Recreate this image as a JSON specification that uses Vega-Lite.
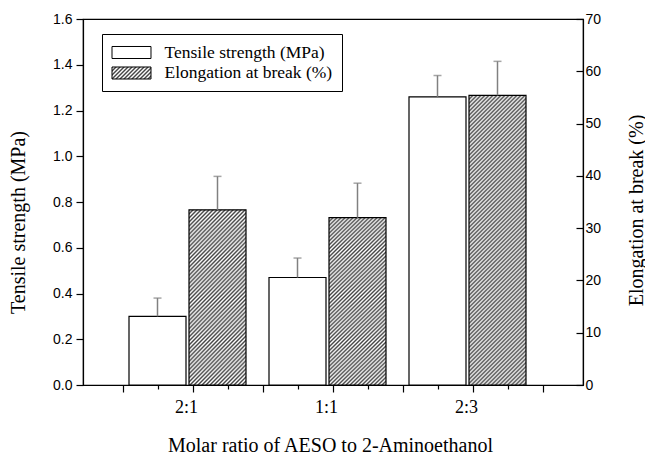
{
  "$schema": "https://vega.github.io/schema/vega-lite/v6.json",
  "width": 500,
  "height": 366,
  "autosize": "none",
  "padding": {"left": 83, "top": 19, "right": 62, "bottom": 76},
  "background": "white",
  "config": {
    "view": {"stroke": "black", "strokeWidth": 1.2},
    "axis": {"labelColor": "black", "titleColor": "black", "domainColor": "black", "tickColor": "black", "domainWidth": 1.2, "tickWidth": 1.2, "grid": false, "titleFontWeight": "normal"}
  },
  "params": [
    {"name": "hs", "value": [
      {"offset":0,"color":"#444"},{"offset":0.005,"color":"#fff"},{"offset":0.01,"color":"#444"},{"offset":0.015,"color":"#fff"},{"offset":0.02,"color":"#444"},{"offset":0.025,"color":"#fff"},{"offset":0.03,"color":"#444"},{"offset":0.035,"color":"#fff"},{"offset":0.04,"color":"#444"},{"offset":0.045,"color":"#fff"},
      {"offset":0.05,"color":"#444"},{"offset":0.055,"color":"#fff"},{"offset":0.06,"color":"#444"},{"offset":0.065,"color":"#fff"},{"offset":0.07,"color":"#444"},{"offset":0.075,"color":"#fff"},{"offset":0.08,"color":"#444"},{"offset":0.085,"color":"#fff"},{"offset":0.09,"color":"#444"},{"offset":0.095,"color":"#fff"},
      {"offset":0.1,"color":"#444"},{"offset":0.105,"color":"#fff"},{"offset":0.11,"color":"#444"},{"offset":0.115,"color":"#fff"},{"offset":0.12,"color":"#444"},{"offset":0.125,"color":"#fff"},{"offset":0.13,"color":"#444"},{"offset":0.135,"color":"#fff"},{"offset":0.14,"color":"#444"},{"offset":0.145,"color":"#fff"},
      {"offset":0.15,"color":"#444"},{"offset":0.155,"color":"#fff"},{"offset":0.16,"color":"#444"},{"offset":0.165,"color":"#fff"},{"offset":0.17,"color":"#444"},{"offset":0.175,"color":"#fff"},{"offset":0.18,"color":"#444"},{"offset":0.185,"color":"#fff"},{"offset":0.19,"color":"#444"},{"offset":0.195,"color":"#fff"},
      {"offset":0.2,"color":"#444"},{"offset":0.205,"color":"#fff"},{"offset":0.21,"color":"#444"},{"offset":0.215,"color":"#fff"},{"offset":0.22,"color":"#444"},{"offset":0.225,"color":"#fff"},{"offset":0.23,"color":"#444"},{"offset":0.235,"color":"#fff"},{"offset":0.24,"color":"#444"},{"offset":0.245,"color":"#fff"},
      {"offset":0.25,"color":"#444"},{"offset":0.255,"color":"#fff"},{"offset":0.26,"color":"#444"},{"offset":0.265,"color":"#fff"},{"offset":0.27,"color":"#444"},{"offset":0.275,"color":"#fff"},{"offset":0.28,"color":"#444"},{"offset":0.285,"color":"#fff"},{"offset":0.29,"color":"#444"},{"offset":0.295,"color":"#fff"},
      {"offset":0.3,"color":"#444"},{"offset":0.305,"color":"#fff"},{"offset":0.31,"color":"#444"},{"offset":0.315,"color":"#fff"},{"offset":0.32,"color":"#444"},{"offset":0.325,"color":"#fff"},{"offset":0.33,"color":"#444"},{"offset":0.335,"color":"#fff"},{"offset":0.34,"color":"#444"},{"offset":0.345,"color":"#fff"},
      {"offset":0.35,"color":"#444"},{"offset":0.355,"color":"#fff"},{"offset":0.36,"color":"#444"},{"offset":0.365,"color":"#fff"},{"offset":0.37,"color":"#444"},{"offset":0.375,"color":"#fff"},{"offset":0.38,"color":"#444"},{"offset":0.385,"color":"#fff"},{"offset":0.39,"color":"#444"},{"offset":0.395,"color":"#fff"},
      {"offset":0.4,"color":"#444"},{"offset":0.405,"color":"#fff"},{"offset":0.41,"color":"#444"},{"offset":0.415,"color":"#fff"},{"offset":0.42,"color":"#444"},{"offset":0.425,"color":"#fff"},{"offset":0.43,"color":"#444"},{"offset":0.435,"color":"#fff"},{"offset":0.44,"color":"#444"},{"offset":0.445,"color":"#fff"},
      {"offset":0.45,"color":"#444"},{"offset":0.455,"color":"#fff"},{"offset":0.46,"color":"#444"},{"offset":0.465,"color":"#fff"},{"offset":0.47,"color":"#444"},{"offset":0.475,"color":"#fff"},{"offset":0.48,"color":"#444"},{"offset":0.485,"color":"#fff"},{"offset":0.49,"color":"#444"},{"offset":0.495,"color":"#fff"},
      {"offset":0.5,"color":"#444"},{"offset":0.505,"color":"#fff"},{"offset":0.51,"color":"#444"},{"offset":0.515,"color":"#fff"},{"offset":0.52,"color":"#444"},{"offset":0.525,"color":"#fff"},{"offset":0.53,"color":"#444"},{"offset":0.535,"color":"#fff"},{"offset":0.54,"color":"#444"},{"offset":0.545,"color":"#fff"},
      {"offset":0.55,"color":"#444"},{"offset":0.555,"color":"#fff"},{"offset":0.56,"color":"#444"},{"offset":0.565,"color":"#fff"},{"offset":0.57,"color":"#444"},{"offset":0.575,"color":"#fff"},{"offset":0.58,"color":"#444"},{"offset":0.585,"color":"#fff"},{"offset":0.59,"color":"#444"},{"offset":0.595,"color":"#fff"},
      {"offset":0.6,"color":"#444"},{"offset":0.605,"color":"#fff"},{"offset":0.61,"color":"#444"},{"offset":0.615,"color":"#fff"},{"offset":0.62,"color":"#444"},{"offset":0.625,"color":"#fff"},{"offset":0.63,"color":"#444"},{"offset":0.635,"color":"#fff"},{"offset":0.64,"color":"#444"},{"offset":0.645,"color":"#fff"},
      {"offset":0.65,"color":"#444"},{"offset":0.655,"color":"#fff"},{"offset":0.66,"color":"#444"},{"offset":0.665,"color":"#fff"},{"offset":0.67,"color":"#444"},{"offset":0.675,"color":"#fff"},{"offset":0.68,"color":"#444"},{"offset":0.685,"color":"#fff"},{"offset":0.69,"color":"#444"},{"offset":0.695,"color":"#fff"},
      {"offset":0.7,"color":"#444"},{"offset":0.705,"color":"#fff"},{"offset":0.71,"color":"#444"},{"offset":0.715,"color":"#fff"},{"offset":0.72,"color":"#444"},{"offset":0.725,"color":"#fff"},{"offset":0.73,"color":"#444"},{"offset":0.735,"color":"#fff"},{"offset":0.74,"color":"#444"},{"offset":0.745,"color":"#fff"},
      {"offset":0.75,"color":"#444"},{"offset":0.755,"color":"#fff"},{"offset":0.76,"color":"#444"},{"offset":0.765,"color":"#fff"},{"offset":0.77,"color":"#444"},{"offset":0.775,"color":"#fff"},{"offset":0.78,"color":"#444"},{"offset":0.785,"color":"#fff"},{"offset":0.79,"color":"#444"},{"offset":0.795,"color":"#fff"},
      {"offset":0.8,"color":"#444"},{"offset":0.805,"color":"#fff"},{"offset":0.81,"color":"#444"},{"offset":0.815,"color":"#fff"},{"offset":0.82,"color":"#444"},{"offset":0.825,"color":"#fff"},{"offset":0.83,"color":"#444"},{"offset":0.835,"color":"#fff"},{"offset":0.84,"color":"#444"},{"offset":0.845,"color":"#fff"},
      {"offset":0.85,"color":"#444"},{"offset":0.855,"color":"#fff"},{"offset":0.86,"color":"#444"},{"offset":0.865,"color":"#fff"},{"offset":0.87,"color":"#444"},{"offset":0.875,"color":"#fff"},{"offset":0.88,"color":"#444"},{"offset":0.885,"color":"#fff"},{"offset":0.89,"color":"#444"},{"offset":0.895,"color":"#fff"},
      {"offset":0.9,"color":"#444"},{"offset":0.905,"color":"#fff"},{"offset":0.91,"color":"#444"},{"offset":0.915,"color":"#fff"},{"offset":0.92,"color":"#444"},{"offset":0.925,"color":"#fff"},{"offset":0.93,"color":"#444"},{"offset":0.935,"color":"#fff"},{"offset":0.94,"color":"#444"},{"offset":0.945,"color":"#fff"},
      {"offset":0.95,"color":"#444"},{"offset":0.955,"color":"#fff"},{"offset":0.96,"color":"#444"},{"offset":0.965,"color":"#fff"},{"offset":0.97,"color":"#444"},{"offset":0.975,"color":"#fff"},{"offset":0.98,"color":"#444"},{"offset":0.985,"color":"#fff"},{"offset":0.99,"color":"#444"},{"offset":0.995,"color":"#fff"},
      {"offset":1,"color":"#444"}
    ]},
    {"name": "gA", "expr": "{gradient: 'linear', x1: 0, y1: 0, x2: 0.7021, y2: 2.106, stops: hs}"},
    {"name": "gB", "expr": "{gradient: 'linear', x1: 0, y1: 0, x2: 0.2617, y2: 1.33, stops: hs}"},
    {"name": "gL", "expr": "{gradient: 'linear', x1: 0, y1: 0, x2: 9.374, y2: 2.884, stops: hs}"}
  ],
  "data": {"values": [
    {"ratio": "2:1", "idx": 1, "measure": "Tensile strength (MPa)", "value": 0.30, "hi": 0.38},
    {"ratio": "2:1", "idx": 1, "measure": "Elongation at break (%)", "value": 33.5, "hi": 39.9},
    {"ratio": "1:1", "idx": 2, "measure": "Tensile strength (MPa)", "value": 0.47, "hi": 0.555},
    {"ratio": "1:1", "idx": 2, "measure": "Elongation at break (%)", "value": 32.0, "hi": 38.6},
    {"ratio": "2:3", "idx": 3, "measure": "Tensile strength (MPa)", "value": 1.26, "hi": 1.353},
    {"ratio": "2:3", "idx": 3, "measure": "Elongation at break (%)", "value": 55.4, "hi": 61.9}
  ]},
  "layer": [
    {
      "transform": [{"filter": "datum.measure === 'Tensile strength (MPa)'"}],
      "layer": [
        {
          "mark": {"type": "bar", "width": 57, "xOffset": -35.5, "stroke": "black", "strokeWidth": 1.2},
          "encoding": {
            "x": {"field": "idx", "type": "quantitative", "scale": {"domain": [0.25, 3.75], "nice": false, "zero": false},
              "axis": {
                "values": [0.5, 0.75, 1, 1.25, 1.5, 1.75, 2, 2.25, 2.5, 2.75, 3, 3.25, 3.5],
                "labelExpr": "datum.value == 1 ? '2:1' : datum.value == 2 ? '1:1' : datum.value == 3 ? '2:3' : ''",
                "tickSize": {"condition": {"test": "round(datum.value * 2) == datum.value * 2", "value": 7}, "value": 4},
                "labelFont": "Liberation Serif", "labelFontSize": 18, "labelOffset": -7, "labelPadding": 6, "labelOverlap": false, "labelFlush": false,
                "title": "Molar ratio of AESO to 2-Aminoethanol", "titleFont": "Liberation Serif", "titleFontSize": 20,
                "titleX": 247, "titleY": 60, "titleAlign": "center", "titleBaseline": "middle"
              }},
            "y": {"field": "value", "type": "quantitative", "scale": {"domain": [0, 1.6], "nice": false},
              "axis": {
                "orient": "left",
                "values": [0, 0.1, 0.2, 0.3, 0.4, 0.5, 0.6, 0.7, 0.8, 0.9, 1.0, 1.1, 1.2, 1.3, 1.4, 1.5, 1.6],
                "labelExpr": "round(datum.value * 10) % 2 == 0 ? format(datum.value, '.1f') : ''",
                "tickSize": {"condition": {"test": "round(datum.value * 10) % 2 == 0", "value": 7}, "value": 4},
                "labelFont": "Liberation Sans", "labelFontSize": 14, "labelPadding": 4, "labelOverlap": false, "labelFlush": false,
                "title": "Tensile strength (MPa)", "titleFont": "Liberation Serif", "titleFontSize": 20,
                "titleAngle": 270, "titleX": -65, "titleY": 203, "titleAlign": "center", "titleBaseline": "middle"
              }},
            "fill": {"field": "measure", "type": "nominal",
              "scale": {"domain": ["Tensile strength (MPa)", "Elongation at break (%)"], "range": ["white", {"expr": "gL"}]},
              "legend": {
                "orient": "none", "legendX": 19, "legendY": 15, "title": null, "padding": 9.5,
                "strokeColor": "black", "fillColor": "white",
                "symbolType": "M-2.294,-0.706H2.294V0.706H-2.294Z", "symbolSize": 289,
                "symbolOffset": 11, "symbolStrokeColor": "black", "symbolStrokeWidth": 1, "symbolOpacity": 1,
                "labelFont": "Liberation Serif", "labelFontSize": 17.5, "labelColor": "black", "labelOffset": 24,
                "rowPadding": 2.5, "labelLimit": 300
              }}
          }
        },
        {
          "mark": {"type": "rule", "xOffset": -35.5, "color": "#808080", "strokeWidth": 1.5},
          "encoding": {
            "x": {"field": "idx", "type": "quantitative", "scale": {"domain": [0.25, 3.75], "nice": false, "zero": false}},
            "y": {"field": "value", "type": "quantitative", "scale": {"domain": [0, 1.6], "nice": false}},
            "y2": {"field": "hi"}
          }
        },
        {
          "mark": {"type": "tick", "orient": "horizontal", "xOffset": -35.5, "size": 8, "thickness": 1.5, "color": "#808080"},
          "encoding": {
            "x": {"field": "idx", "type": "quantitative", "scale": {"domain": [0.25, 3.75], "nice": false, "zero": false}},
            "y": {"field": "hi", "type": "quantitative", "scale": {"domain": [0, 1.6], "nice": false}}
          }
        }
      ]
    },
    {
      "transform": [{"filter": "datum.measure === 'Elongation at break (%)'"}],
      "layer": [
        {
          "mark": {"type": "bar", "width": 57, "xOffset": 24.5, "stroke": "black", "strokeWidth": 1.2, "fill": {"expr": "datum.ratio === '2:3' ? gB : gA"}},
          "encoding": {
            "x": {"field": "idx", "type": "quantitative", "scale": {"domain": [0.25, 3.75], "nice": false, "zero": false}},
            "y": {"field": "value", "type": "quantitative", "scale": {"domain": [0, 70], "nice": false},
              "axis": {
                "orient": "right",
                "values": [0, 5, 10, 15, 20, 25, 30, 35, 40, 45, 50, 55, 60, 65, 70],
                "labelExpr": "datum.value % 10 == 0 ? format(datum.value, 'd') : ''",
                "tickSize": {"condition": {"test": "datum.value % 10 == 0", "value": -7}, "value": -5},
                "labelFont": "Liberation Sans", "labelFontSize": 14, "labelPadding": 9, "labelOverlap": false, "labelFlush": false,
                "title": "Elongation at break (%)", "titleFont": "Liberation Serif", "titleFontSize": 20,
                "titleAngle": 270, "titleX": 53, "titleY": 191, "titleAlign": "center", "titleBaseline": "middle"
              }}
          }
        },
        {
          "mark": {"type": "rule", "xOffset": 24.5, "color": "#808080", "strokeWidth": 1.5},
          "encoding": {
            "x": {"field": "idx", "type": "quantitative", "scale": {"domain": [0.25, 3.75], "nice": false, "zero": false}},
            "y": {"field": "value", "type": "quantitative", "scale": {"domain": [0, 70], "nice": false}},
            "y2": {"field": "hi"}
          }
        },
        {
          "mark": {"type": "tick", "orient": "horizontal", "xOffset": 24.5, "size": 8, "thickness": 1.5, "color": "#808080"},
          "encoding": {
            "x": {"field": "idx", "type": "quantitative", "scale": {"domain": [0.25, 3.75], "nice": false, "zero": false}},
            "y": {"field": "hi", "type": "quantitative", "scale": {"domain": [0, 70], "nice": false}}
          }
        }
      ]
    }
  ],
  "resolve": {"scale": {"y": "independent"}}
}
